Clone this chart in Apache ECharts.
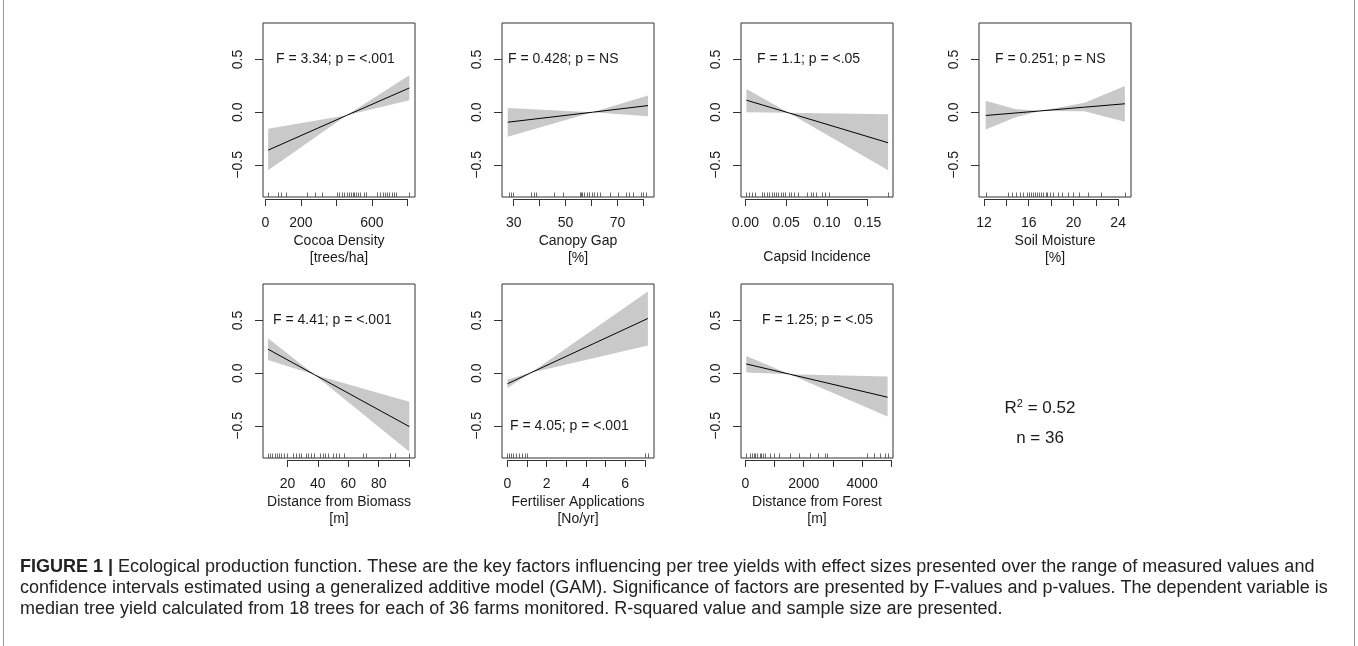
<!DOCTYPE html>
<html><head><meta charset="utf-8">
<script src="https://cdn.jsdelivr.net/npm/echarts@6/dist/echarts.min.js"></script>
<style>html,body{margin:0;padding:0;background:#fff}#c{width:1358px;height:646px}</style>
</head><body><div id="c"></div>
<script>
// ---------------- DATA ----------------
const yTickValues = [-0.5, 0, 0.5];

// Cocoa Density
const cocoaX = [15, 458, 811];
const cocoaFit = [-0.36, -0.03, 0.23];
const cocoaUpper = [-0.157, -0.03, 0.35];
const cocoaLower = [-0.55, -0.03, 0.114];
const cocoaRug = [15, 71, 85, 113, 235, 279, 320, 403, 416, 429, 442, 459, 471, 480, 491, 499, 510, 523, 535, 555, 565, 627, 646, 661, 674, 687, 698, 712, 725, 736, 811];
const cocoaTicks = [0, 200, 400, 600, 800];
const cocoaTickLabels = [0, 200, 600];

// Canopy Gap
const canopyX = [27.7, 60.4, 81.8];
const canopyFit = [-0.095, 0.0, 0.063];
const canopyUpper = [0.04, 0.0, 0.158];
const canopyLower = [-0.233, 0.0, -0.038];
const canopyRug = [28.1, 29, 29.8, 36.7, 37.7, 38.7, 45.7, 49.2, 55.4, 55.9, 56.5, 57.3, 58.2, 59.1, 60.2, 61.0, 62.1, 63.1, 67.2, 70.4, 73.3, 74.6, 75.9, 79.1, 80, 81];
const canopyTicks = [30, 40, 50, 60, 70, 80];
const canopyTickLabels = [30, 50, 70];

// Capsid Incidence
const capsidX = [0.0012, 0.053, 0.175];
const capsidFit = [0.114, -0.006, -0.29];
const capsidUpper = [0.22, -0.006, -0.02];
const capsidLower = [0.0, -0.006, -0.55];
const capsidRug = [0.0012, 0.004, 0.008, 0.0114, 0.020, 0.023, 0.0266, 0.029, 0.032, 0.035, 0.037, 0.040, 0.043, 0.046, 0.049, 0.053, 0.056, 0.060, 0.065, 0.076, 0.080, 0.083, 0.087, 0.094, 0.098, 0.103, 0.175];
const capsidTicks = [0, 0.05, 0.10, 0.15];
const capsidTickLabels = [0, 0.05, 0.10, 0.15];

// Soil Moisture
const soilX = [12.15, 14.75, 17.0, 21, 24.6];
const soilFit = [-0.031, -0.008, 0.012, 0.048, 0.08];
const soilUpper = [0.11, 0.03, 0.012, 0.09, 0.25];
const soilLower = [-0.164, -0.05, 0.012, 0.01, -0.09];
const soilRug = [12.15, 14.1, 14.5, 14.9, 15.2, 15.5, 15.8, 16.0, 16.2, 16.4, 16.6, 16.7, 16.9, 17.1, 17.3, 17.5, 17.6, 17.9, 18.2, 18.6, 19.0, 19.5, 20.0, 20.5, 21.3, 22.5, 24.6];
const soilTicks = [12, 14, 16, 18, 20, 22, 24];
const soilTickLabels = [12, 16, 20, 24];

// Distance from Biomass
const biomassX = [7.2, 37.8, 100.2];
const biomassFit = [0.228, -0.014, -0.507];
const biomassUpper = [0.332, -0.014, -0.27];
const biomassLower = [0.126, -0.014, -0.745];
const biomassRug = [7.2, 8.8, 10.1, 11.6, 13.1, 14.5, 16, 17.6, 19.8, 23.7, 25.5, 27.4, 29.2, 32.1, 33.6, 35.4, 37.3, 41.3, 43.1, 44.8, 46.8, 50.1, 51.8, 54, 57.1, 69.4, 71.4, 87.4, 90.7, 100.2];
const biomassTicks = [20, 40, 60, 80, 100];
const biomassTickLabels = [20, 40, 60, 80];

// Fertiliser Applications
const fertX = [0, 1.2, 7.16];
const fertFit = [-0.10, 0.005, 0.52];
const fertUpper = [-0.06, 0.005, 0.775];
const fertLower = [-0.14, 0.005, 0.262];
const fertRug = [0, 0.1, 0.2, 0.3, 0.45, 0.6, 0.75, 0.9, 1.0, 7.0, 7.16];
const fertTicks = [0, 1, 2, 3, 4, 5, 6, 7];
const fertTickLabels = [0, 2, 4, 6];

// Distance from Forest
const forestX = [34, 1517, 4873];
const forestFit = [0.088, -0.009, -0.228];
const forestUpper = [0.164, -0.009, -0.032];
const forestLower = [0.006, -0.009, -0.41];
const forestRug = [34, 148, 228, 285, 342, 400, 491, 537, 605, 685, 833, 970, 1141, 1518, 1826, 2226, 2489, 2740, 2797, 4167, 4395, 4623, 4795, 4873];
const forestTicks = [0, 1000, 2000, 3000, 4000, 5000];
const forestTickLabels = [0, 2000, 4000];

const xNames = ['Cocoa Density\n[trees/ha]', 'Canopy Gap\n[%]', 'Capsid Incidence', 'Soil Moisture\n[%]',
                'Distance from Biomass\n[m]', 'Fertiliser Applications\n[No/yr]', 'Distance from Forest\n[m]'];
const fLabels = ['F = 3.34; p = <.001', 'F = 0.428; p = NS', 'F = 1.1; p = <.05', 'F = 0.251; p = NS',
                 'F = 4.41; p = <.001', 'F = 4.05; p = <.001', 'F = 1.25; p = <.05'];
const r2Label = 'R{s|2} = 0.52';
const nLabel = 'n = 36';
const captionLines = [
  'Ecological production function. These are the key factors influencing per tree yields with effect sizes presented over the range of measured values and',
  'confidence intervals estimated using a generalized additive model (GAM). Significance of factors are presented by F-values and p-values. The dependent variable is',
  'median tree yield calculated from 18 trees for each of 36 farms monitored. R-squared value and sample size are presented.'
];

// ---------------- LAYOUT ----------------
const FONT = 'Liberation Sans, Arial, Helvetica, sans-serif';
const Y_MIN = -0.805, Y_MAX = 0.847;
const GW = 152, GH = 174;
const panels = [
  {x: cocoaX, fit: cocoaFit, up: cocoaUpper, lo: cocoaLower, rug: cocoaRug, ticks: cocoaTicks, lab: cocoaTickLabels, min: -14, max: 843, dec: 0, left: 263, top: 23, fx: 276, fy: 0.5, gap: 34},
  {x: canopyX, fit: canopyFit, up: canopyUpper, lo: canopyLower, rug: canopyRug, ticks: canopyTicks, lab: canopyTickLabels, min: 25.5, max: 84.1, dec: 0, left: 502, top: 23, fx: 508, fy: 0.5, gap: 34},
  {x: capsidX, fit: capsidFit, up: capsidUpper, lo: capsidLower, rug: capsidRug, ticks: capsidTicks, lab: capsidTickLabels, min: -0.0055, max: 0.181, dec: 2, left: 741, top: 23, fx: 757, fy: 0.5, gap: 50},
  {x: soilX, fit: soilFit, up: soilUpper, lo: soilLower, rug: soilRug, ticks: soilTicks, lab: soilTickLabels, min: 11.55, max: 25.15, dec: 0, left: 979, top: 23, fx: 995, fy: 0.5, gap: 34},
  {x: biomassX, fit: biomassFit, up: biomassUpper, lo: biomassLower, rug: biomassRug, ticks: biomassTicks, lab: biomassTickLabels, min: 3.9, max: 103.9, dec: 0, left: 263, top: 284, fx: 273, fy: 0.5, gap: 34},
  {x: fertX, fit: fertFit, up: fertUpper, lo: fertLower, rug: fertRug, ticks: fertTicks, lab: fertTickLabels, min: -0.28, max: 7.47, dec: 0, left: 502, top: 284, fx: 510, fy: -0.5, gap: 34},
  {x: forestX, fit: forestFit, up: forestUpper, lo: forestLower, rug: forestRug, ticks: forestTicks, lab: forestTickLabels, min: -147, max: 5058, dec: 0, left: 741, top: 284, fx: 762, fy: 0.5, gap: 34}
];

const grids = [], xAxes = [], yAxes = [], series = [], graphics = [];
const TXT = '#1a1a1a', LINE = '#333';

panels.forEach((p, i) => {
  grids.push({left: p.left, top: p.top, width: GW, height: GH, show: true, borderColor: LINE, borderWidth: 1,
              backgroundColor: 'transparent', containLabel: false, outerBoundsMode: 'none'});
  xAxes.push({
    type: 'value', gridIndex: i, min: p.min, max: p.max, offset: 2, position: 'bottom',
    axisLine: {show: false, onZero: false},
    axisTick: {show: true, length: 7, customValues: p.ticks, lineStyle: {color: LINE, width: 1}},
    axisLabel: {show: true, customValues: p.lab, margin: 17, fontSize: 14, fontFamily: FONT, color: TXT,
                formatter: v => Number(v).toFixed(p.dec)},
    splitLine: {show: false},
    name: xNames[i], nameLocation: 'middle', nameGap: p.gap,
    nameTextStyle: {fontSize: 14, fontFamily: FONT, color: TXT, lineHeight: 17}
  });
  yAxes.push({
    type: 'value', gridIndex: i, min: Y_MIN, max: Y_MAX, position: 'left',
    axisLine: {show: false, onZero: false},
    axisTick: {show: true, length: 8, customValues: yTickValues, lineStyle: {color: LINE, width: 1}},
    axisLabel: {show: true, customValues: yTickValues, rotate: 90, margin: 18, fontSize: 14, fontFamily: FONT, color: TXT,
                formatter: v => (v < 0 ? '\u2212' : '') + Math.abs(v).toFixed(1)},
    splitLine: {show: false}
  });
  // confidence band
  series.push({
    type: 'custom', xAxisIndex: i, yAxisIndex: i, silent: true, z: 1,
    data: [[p.x[0], p.fit[0]]],
    renderItem: function (params, api) {
      const pts = [];
      for (let k = 0; k < p.x.length; k++) pts.push(api.coord([p.x[k], p.up[k]]));
      for (let k = p.x.length - 1; k >= 0; k--) pts.push(api.coord([p.x[k], p.lo[k]]));
      return {type: 'polygon', shape: {points: pts}, style: {fill: '#c9c9c9', stroke: null}};
    }
  });
  // fitted line
  series.push({
    type: 'line', xAxisIndex: i, yAxisIndex: i, silent: true, z: 3, symbol: 'none',
    data: p.x.map((v, k) => [v, p.fit[k]]),
    lineStyle: {color: '#000', width: 1}
  });
  // rug
  series.push({
    type: 'custom', xAxisIndex: i, yAxisIndex: i, silent: true, z: 4,
    data: p.rug.map(v => [v, Y_MIN]),
    renderItem: function (params, api) {
      const c = api.coord([api.value(0), Y_MIN]);
      const xx = Math.round(c[0]) + 0.5;
      return {type: 'line', shape: {x1: xx, y1: c[1], x2: xx, y2: c[1] - 4.5}, style: {stroke: '#444', lineWidth: 0.8}};
    }
  });
  // R-style x axis line (first to last tick, just below the box)
  series.push({
    type: 'custom', xAxisIndex: i, yAxisIndex: i, silent: true, z: 4, clip: false,
    data: [[p.ticks[0], Y_MIN]],
    renderItem: function (params, api) {
      const a = api.coord([p.ticks[0], Y_MIN]);
      const b = api.coord([p.ticks[p.ticks.length - 1], Y_MIN]);
      const yy = Math.round(a[1]) + 2.5;
      return {type: 'line', shape: {x1: a[0], y1: yy, x2: b[0], y2: yy}, style: {stroke: LINE, lineWidth: 1}};
    }
  });
  // F annotation
  const yPix = p.top + (Y_MAX - p.fy) / (Y_MAX - Y_MIN) * GH;
  graphics.push({type: 'text', x: p.fx, y: yPix, silent: true,
    style: {text: fLabels[i], fontSize: 14, fontFamily: FONT, fill: TXT, align: 'left', verticalAlign: 'middle'}});
});

graphics.push({type: 'text', x: 1040, y: 408, silent: true,
  style: {text: r2Label, fontSize: 17, fontFamily: FONT, fill: TXT, align: 'center', verticalAlign: 'middle',
    rich: {s: {fontSize: 11, fontFamily: FONT, fill: TXT, verticalAlign: 'bottom', padding: [0, 0, 9, 0]}}}});
graphics.push({type: 'text', x: 1040, y: 438, silent: true,
  style: {text: nLabel, fontSize: 17, fontFamily: FONT, fill: TXT, align: 'center', verticalAlign: 'middle'}});

captionLines.forEach((t, k) => {
  graphics.push({type: 'text', x: 20, y: 567 + k * 21, silent: true,
    style: {text: (k === 0 ? '{b|FIGURE 1 |} ' : '') + t, fontSize: 18, fontFamily: FONT, fill: '#222',
      align: 'left', verticalAlign: 'middle',
      rich: {b: {fontSize: 18, fontFamily: FONT, fontWeight: 'bold', fill: '#222'}}}});
});

// figure frame (left and right borders)
graphics.push({type: 'line', silent: true, shape: {x1: 3.5, y1: 0, x2: 3.5, y2: 646}, style: {stroke: '#9a9a9a', lineWidth: 1}});
graphics.push({type: 'line', silent: true, shape: {x1: 1354.5, y1: 0, x2: 1354.5, y2: 646}, style: {stroke: '#9a9a9a', lineWidth: 1}});

const chart = echarts.init(document.getElementById('c'), null, {renderer: 'canvas'});
chart.setOption({
  animation: false,
  backgroundColor: '#fff',
  grid: grids, xAxis: xAxes, yAxis: yAxes, series: series, graphic: graphics
});
</script></body></html>
